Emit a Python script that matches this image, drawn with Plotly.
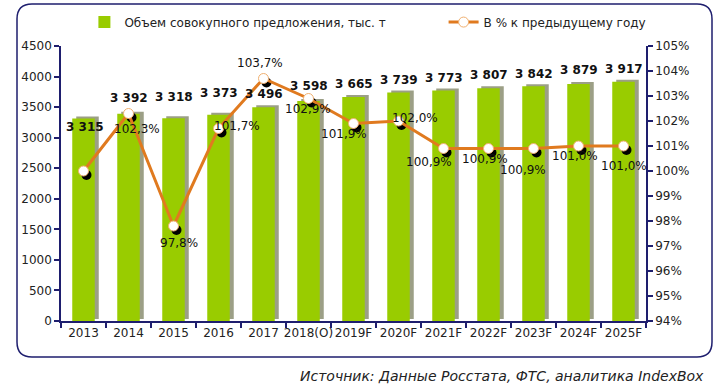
import plotly.graph_objects as go

categories = ["2013", "2014", "2015", "2016", "2017", "2018(O)", "2019F",
              "2020F", "2021F", "2022F", "2023F", "2024F", "2025F"]
volume = [3315, 3392, 3318, 3373, 3496, 3598, 3665, 3739, 3773, 3807, 3842, 3879, 3917]
pct = [100.0, 102.3, 97.8, 101.7, 103.7, 102.9, 101.9, 102.0, 100.9, 100.9, 100.9, 101.0, 101.0]
pct_show = [False] + [True] * 12

# label offsets in pixels (style only)
pct_label_shift = [(0, 0), (8, -15), (5, -17), (18, 3), (-4, 16), (-1, -10), (-10, -10),
                   (16, 3), (-15, -13), (-4, -10), (-11, -21), (-4, -10), (0, -20)]
bar_label_yshift = [0, 7, 12, 13, 4, 6, 4, 4, 3, 4, 3, 5, 4]

bar_name = "Объем совокупного предложения, тыс. т"
line_name = "В % к предыдущему году"
source = "Источник: Данные Росстата, ФТС, аналитика IndexBox"

FONT = "DejaVu Sans"
NAVY = "#1e1e6e"
GREEN = "#99CC00"
ORANGE = "#E07A1F"

# plot area geometry in pixels (for shadow offsets)
PLOT_W, PLOT_H = 585, 275
n = len(categories)
cat_px = PLOT_W / n
dx_bar = 4 / cat_px
dy_bar = 2 * 4500 / PLOT_H
dx_pt = 3 / cat_px
dy_pt = 4 * 11 / PLOT_H


def fmt_vol(v):
    return f"{v:,}".replace(",", " ")


def fmt_pct(p):
    return f"{p:.1f}%".replace(".", ",")


fig = go.Figure()

# bar shadow
fig.add_trace(go.Bar(
    x=categories, y=volume, base=[dy_bar] * n, width=0.5, offset=-0.25 + dx_bar,
    marker=dict(color="rgba(75,80,35,0.55)", line=dict(width=0)),
    showlegend=False, hoverinfo="skip"))
# bars
fig.add_trace(go.Bar(
    x=categories, y=volume, width=0.5, offset=-0.25, name=bar_name, legend="legend",
    marker=dict(color=GREEN, line=dict(width=0))))

# marker shadows
fig.add_trace(go.Scatter(
    x=categories, y=pct, mode="markers", xaxis="x2", yaxis="y2",
    marker=dict(color="black", size=10), showlegend=False, hoverinfo="skip"))
# line
fig.add_trace(go.Scatter(
    x=categories, y=pct, mode="lines+markers", xaxis="x3", yaxis="y3",
    name=line_name, legend="legend2",
    line=dict(color=ORANGE, width=3),
    marker=dict(color="white", size=10, line=dict(color="#F0B070", width=1)),
    cliponaxis=False))

# percent labels (x given as category index on the category axis)
for i, (p, s, (xs, ys)) in enumerate(zip(pct, pct_show, pct_label_shift)):
    if s:
        fig.add_annotation(x=i, y=p, xref="x3", yref="y3", text=fmt_pct(p), showarrow=False,
                           xshift=xs, yshift=ys, xanchor="center", yanchor="middle",
                           font=dict(family=FONT, size=12, color="#111"))

# bar value labels
for i, (v, ys) in enumerate(zip(volume, bar_label_yshift)):
    if i == 0:
        fig.add_annotation(x=i, y=v, xref="x", yref="y", text=f"<b>{fmt_vol(v)}</b>",
                           showarrow=False, yanchor="top", yshift=ys, xshift=1,
                           font=dict(family=FONT, size=12, color="#111"))
    else:
        fig.add_annotation(x=i, y=v, xref="x", yref="y", text=f"<b>{fmt_vol(v)}</b>",
                           showarrow=False, yanchor="bottom", yshift=ys,
                           font=dict(family=FONT, size=12, color="#111"))

axis_common = dict(showline=True, linecolor=NAVY, linewidth=1.5, ticks="outside",
                   tickcolor=NAVY, tickwidth=1.5, ticklen=5, showgrid=False, zeroline=False,
                   tickfont=dict(family=FONT, size=12, color="#222"), automargin=False)

leg_common = dict(orientation="h", y=1.087, xanchor="left", yanchor="middle",
                  font=dict(family=FONT, size=12, color="#222"), bgcolor="rgba(0,0,0,0)")

fig.update_layout(
    width=727, height=385,
    margin=dict(l=61, r=81, t=46, b=64, autoexpand=False),
    paper_bgcolor="white", plot_bgcolor="white",
    barmode="overlay",
    font=dict(family=FONT, size=12, color="#222"),
    xaxis=dict(type="category", categoryarray=categories, range=[-0.5, n - 0.5],
               tickson="boundaries", tickangle=0, **axis_common),
    yaxis=dict(range=[0, 4500], dtick=500, **axis_common),
    xaxis2=dict(type="category", categoryarray=categories, overlaying="x",
                range=[-0.5 - dx_pt, n - 0.5 - dx_pt], visible=False),
    yaxis2=dict(overlaying="y", range=[94 + dy_pt, 105 + dy_pt], visible=False),
    xaxis3=dict(type="category", categoryarray=categories, overlaying="x",
                range=[-0.5, n - 0.5], visible=False),
    yaxis3=dict(overlaying="y", side="right", range=[94, 105], dtick=1, ticksuffix="%",
                **axis_common),
    legend=dict(x=0.04, **leg_common),
    legend2=dict(x=0.654, **leg_common),
    showlegend=True,
)

# rounded frame
def px_x(p):
    return (p - 61) / PLOT_W


def px_y(p):
    return (321 - p) / PLOT_H


x0, x1 = px_x(17), px_x(712)
yt, yb = px_y(4), px_y(357)
rx, ry = 15 / PLOT_W, 15 / PLOT_H
path = (f"M {x0+rx},{yt} L {x1-rx},{yt} Q {x1},{yt} {x1},{yt-ry} L {x1},{yb+ry} "
        f"Q {x1},{yb} {x1-rx},{yb} L {x0+rx},{yb} Q {x0},{yb} {x0},{yb+ry} "
        f"L {x0},{yt-ry} Q {x0},{yt} {x0+rx},{yt} Z")
fig.add_shape(type="path", path=path, xref="paper", yref="paper",
              line=dict(color=NAVY, width=1.5), layer="below")

fig.add_annotation(text=f"<i>{source}</i>", xref="paper", yref="paper",
                   x=px_x(706), y=px_y(376), xanchor="right", yanchor="middle",
                   showarrow=False, font=dict(family=FONT, size=14, color="#222"))

fig.write_html("out.html", config={"displayModeBar": False},
               post_script="document.body.style.margin='0';")
